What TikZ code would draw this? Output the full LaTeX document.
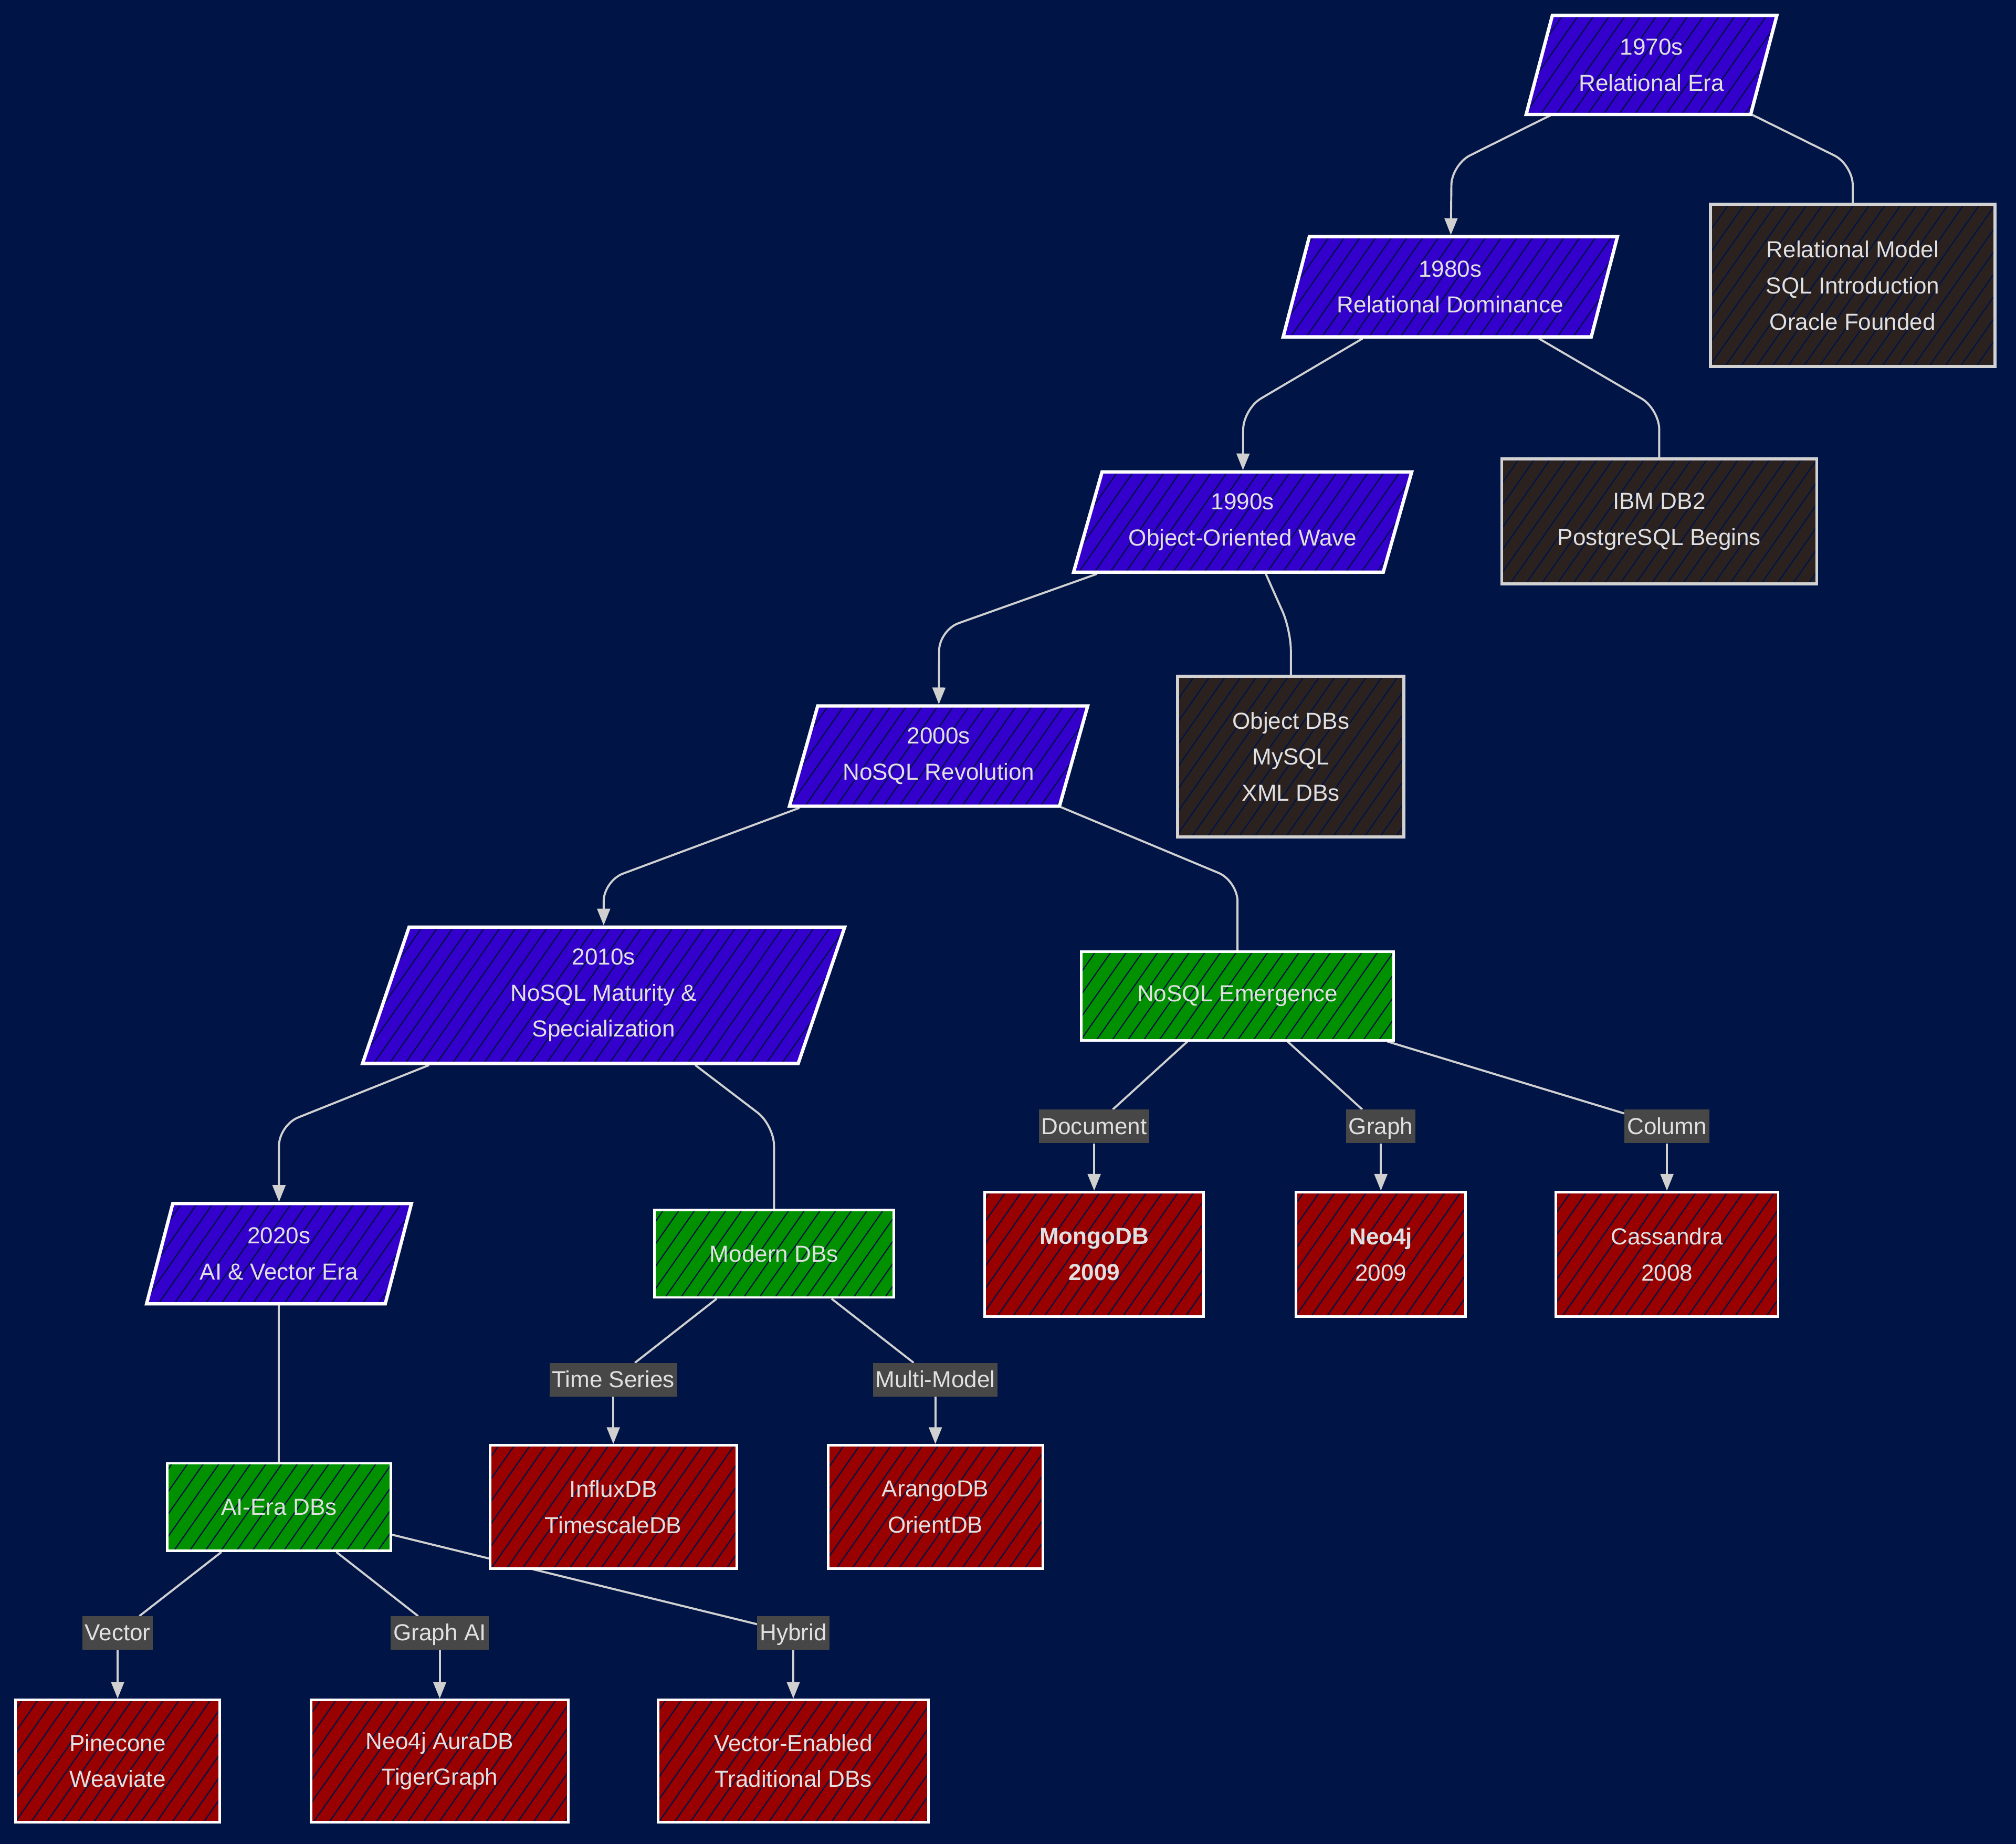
\documentclass[tikz,border=0pt]{standalone}
\usepackage{fontspec}
\setmainfont{Liberation Sans}
\usetikzlibrary{shapes.geometric,arrows.meta,patterns.meta}
\definecolor{bg}{RGB}{0,20,70}
\definecolor{purp}{RGB}{51,0,204}
\definecolor{grn}{RGB}{0,144,0}
\definecolor{rd}{RGB}{153,0,0}
\definecolor{brn}{RGB}{43,34,32}
\definecolor{lblc}{RGB}{71,71,71}
\definecolor{txt}{RGB}{224,224,224}
\definecolor{edgec}{RGB}{208,208,208}
\definecolor{bbord}{RGB}{210,210,210}
\pgfdeclarelayer{back}
\pgfdeclarelayer{edges}
\pgfsetlayers{back,edges,main}
\tikzset{
  hatch/.style={preaction={fill=#1}, pattern={Lines[angle=55,distance=10pt,line width=0.9pt]}, pattern color=bg},
  era/.style={trapezium, trapezium left angle=63.43, trapezium right angle=116.57,
    trapezium stretches body, draw=white, line width=2.6pt, hatch=purp,
    text=txt, align=center, inner sep=0pt},
  brownbox/.style={rectangle, draw=bbord, line width=2.4pt, hatch=brn, text=txt, align=center, inner sep=0pt},
  greenbox/.style={rectangle, draw=white, line width=2pt, hatch=grn, text=txt, align=center, inner sep=0pt},
  redbox/.style={rectangle, draw=white, line width=2pt, hatch=rd, text=txt, align=center, inner sep=0pt},
  lbl/.style={rectangle, fill=lblc, text=txt, inner xsep=2pt, inner ysep=0pt, text height=15pt, text depth=3pt, minimum height=26pt},
  edge/.style={draw=edgec, line width=1.6pt},
  arr/.style={-{Triangle[length=13pt,width=10pt]}},
}
\begin{document}
\begin{tikzpicture}[x=1pt,y=-1pt, font=\fontsize{18}{28}\selectfont]
\begin{pgfonlayer}{back}
\fill[bg] (0,0) rectangle (1568,1434);
\end{pgfonlayer}
\useasboundingbox (0,0) rectangle (1568,1434);

% era nodes
\node[era, minimum width=195pt, minimum height=77pt] (P70) at (1284.5,50.5) {1970s\\Relational Era};
\node[era, minimum width=260pt, minimum height=78pt] (P80) at (1128,223) {1980s\\Relational Dominance};
\node[era, minimum width=263pt, minimum height=78pt] (P90) at (966.5,406) {1990s\\Object-Oriented Wave};
\node[era, minimum width=232pt, minimum height=78pt] (P00) at (730,588) {2000s\\NoSQL Revolution};
\node[era, minimum width=375pt, minimum height=106pt] (P10) at (469.5,774) {2010s\\NoSQL Maturity \&\\Specialization};
\node[era, minimum width=206pt, minimum height=78pt] (P20) at (217,975) {2020s\\AI \& Vector Era};

% brown boxes
\node[brownbox, minimum width=221pt, minimum height=126pt] (B70) at (1441,222) {Relational Model\\SQL Introduction\\Oracle Founded};
\node[brownbox, minimum width=245pt, minimum height=97pt] (B80) at (1290.5,405.5) {IBM DB2\\PostgreSQL Begins};
\node[brownbox, minimum width=176pt, minimum height=125pt] (B90) at (1004,588.5) {Object DBs\\MySQL\\XML DBs};

% green boxes
\node[greenbox, minimum width=243pt, minimum height=69pt] (G00) at (962.5,774.5) {NoSQL Emergence};
\node[greenbox, minimum width=186pt, minimum height=68pt] (G10) at (602,975) {Modern DBs};
\node[greenbox, minimum width=174pt, minimum height=68pt] (AI) at (217,1172) {AI-Era DBs};

% red boxes
\node[redbox, minimum width=170pt, minimum height=97pt] (Mongo) at (851,975.5) {\bfseries MongoDB\\\bfseries 2009};
\node[redbox, minimum width=132pt, minimum height=97pt] (Neo) at (1074,975.5) {\bfseries Neo4j\\2009};
\node[redbox, minimum width=173pt, minimum height=97pt] (Cass) at (1296.5,975.5) {Cassandra\\2008};
\node[redbox, minimum width=192pt, minimum height=96pt] (Influx) at (477,1172) {InfluxDB\\TimescaleDB};
\node[redbox, minimum width=167pt, minimum height=96pt] (Arango) at (727.5,1172) {ArangoDB\\OrientDB};
\node[redbox, minimum width=159pt, minimum height=95pt] (Pine) at (91.5,1369.5) {Pinecone\\Weaviate};
\node[redbox, minimum width=200pt, minimum height=95pt] (Aura) at (342,1369.5) {Neo4j AuraDB\\TigerGraph};
\node[redbox, minimum width=210pt, minimum height=95pt] (VecT) at (617,1369.5) {Vector-Enabled\\Traditional DBs};

% edge labels
\node[lbl] (Ldoc) at (851,876) {Document};
\node[lbl] (Lgraph) at (1074,876) {Graph};
\node[lbl] (Lcol) at (1296.5,876) {Column};
\node[lbl] (Lts) at (477,1073) {Time Series};
\node[lbl] (Lmm) at (727.5,1073) {Multi-Model};
\node[lbl] (Lvec) at (91.5,1270) {Vector};
\node[lbl] (Lgai) at (342,1270) {Graph AI};
\node[lbl] (Lhyb) at (617,1270) {Hybrid};

\begin{pgfonlayer}{edges}
\draw[edge, arr, rounded corners=16pt] (P70) -- (1129,128) -- (P80);
\draw[edge, rounded corners=16pt] (P70) -- (1441,128) -- (B70);
\draw[edge, arr, rounded corners=16pt] (P80) -- (967,318) -- (P90);
\draw[edge, rounded corners=16pt] (P80) -- (1290.5,318) -- (B80);
\draw[edge, arr, rounded corners=16pt] (P90) -- (730.5,490) -- (P00);
\draw[edge, rounded corners=16pt] (P90) -- (1004,490) -- (B90);
\draw[edge, arr, rounded corners=16pt] (P00) -- (469.5,685) -- (P10);
\draw[edge, rounded corners=16pt] (P00) -- (962.5,685) -- (G00);
\draw[edge, arr, rounded corners=16pt] (P10) -- (217,875) -- (P20);
\draw[edge, rounded corners=16pt] (P10) -- (602,875) -- (G10);
\draw[edge] (P20) -- (AI);

\draw[edge] (G00) -- (Ldoc);
\draw[edge, arr] (Ldoc) -- (Mongo);
\draw[edge] (G00) -- (Lgraph);
\draw[edge, arr] (Lgraph) -- (Neo);
\draw[edge] (G00) -- (Lcol);
\draw[edge, arr] (Lcol) -- (Cass);

\draw[edge] (G10) -- (Lts);
\draw[edge, arr] (Lts) -- (Influx);
\draw[edge] (G10) -- (Lmm);
\draw[edge, arr] (Lmm) -- (Arango);

\draw[edge] (AI) -- (Lvec);
\draw[edge, arr] (Lvec) -- (Pine);
\draw[edge] (AI) -- (Lgai);
\draw[edge, arr] (Lgai) -- (Aura);
\draw[edge] (AI) -- (Lhyb);
\draw[edge, arr] (Lhyb) -- (VecT);
\end{pgfonlayer}
\end{tikzpicture}
\end{document}
